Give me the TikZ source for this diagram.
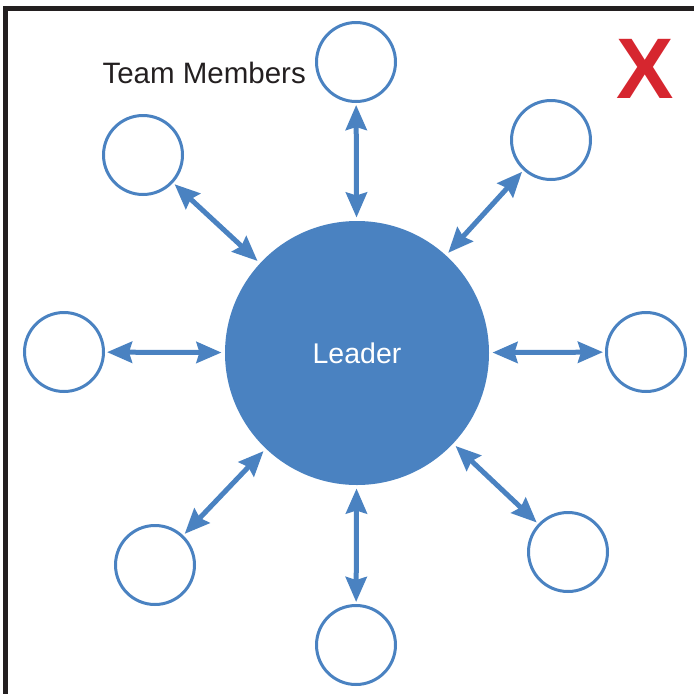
\documentclass[tikz,border=0pt]{standalone}
\usepackage{fontspec}
\setmainfont{Liberation Sans}
\usetikzlibrary{arrows.meta}
\definecolor{teamblue}{RGB}{74,130,193}
\definecolor{framegray}{RGB}{35,31,32}
\definecolor{crossred}{RGB}{214,38,47}

\begin{document}
\begin{tikzpicture}[
    x=1pt, y=-1pt,
    >={Stealth[length=25pt, width=21pt, inset=3pt]},
    member/.style={
        draw=teamblue,
        line width=3pt,
        circle,
        minimum size=79pt,
        inner sep=0pt,
        outer sep=0pt,
    },
    leader/.style={
        circle,
        fill=teamblue,
        minimum size=264pt,
        inner sep=0pt,
        outer sep=0pt,
        text=white,
        font=\fontsize{28.5}{34}\selectfont,
    },
    link/.style={
        <->,
        draw=teamblue,
        line width=5pt,
        shorten >=3.5pt,
        shorten <=3.5pt,
    }
]
\useasboundingbox (0,0) rectangle (694,694);

% frame
\draw[framegray, line width=5pt] (5.5,694) |- (694,8);

\node[leader] (leader) at (357,353) {Leader};

\node[member] (top) at (356,62) {};
\node[member] (topright) at (551,140) {};
\node[member] (right) at (646,352) {};
\node[member] (bottomright) at (568,552) {};
\node[member] (bottom) at (356,645) {};
\node[member] (bottomleft) at (155,565) {};
\node[member] (left) at (64,352) {};
\node[member] (topleft) at (143,155) {};

\node[anchor=base west, text=framegray, font=\fontsize{29.5}{35}\selectfont] (label) at (99,83) {Team Members};
\node[text=crossred, font=\fontsize{86}{90}\selectfont\bfseries] (cross) at (645,69) {X};

\draw[link] (leader) -- (top);
\draw[link] (leader) -- (topright);
\draw[link] (leader) -- (right);
\draw[link] (leader) -- (bottomright);
\draw[link] (leader) -- (bottom);
\draw[link] (leader) -- (bottomleft);
\draw[link] (leader) -- (left);
\draw[link] (leader) -- (topleft);
\end{tikzpicture}
\end{document}
